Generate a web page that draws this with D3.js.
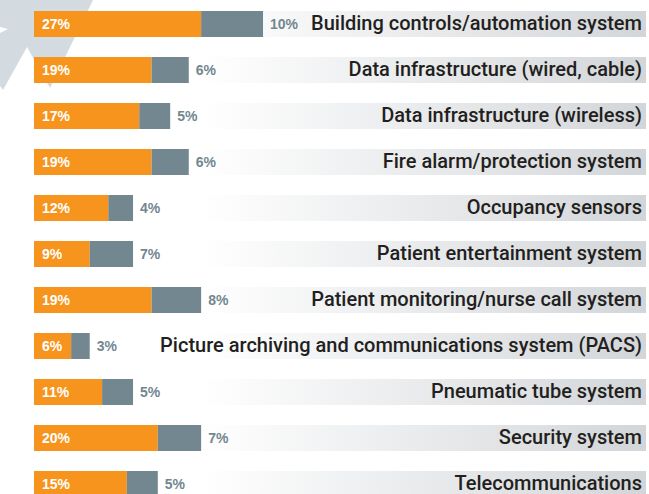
<!DOCTYPE html>
<html>
<head>
<meta charset="utf-8">
<script src="https://cdn.jsdelivr.net/npm/d3@7"></script>
<style>
  body { margin: 0; background: #fff; }
  svg { display: block; }
</style>
</head>
<body>
<div id="chart"></div>
<script>
// Data
const categories = [
  "Building controls/automation system",
  "Data infrastructure (wired, cable)",
  "Data infrastructure (wireless)",
  "Fire alarm/protection system",
  "Occupancy sensors",
  "Patient entertainment system",
  "Patient monitoring/nurse call system",
  "Picture archiving and communications system (PACS)",
  "Pneumatic tube system",
  "Security system",
  "Telecommunications"
];
const primary = [27, 19, 17, 19, 12, 9, 19, 6, 11, 20, 15];
const secondary = [10, 6, 5, 6, 4, 7, 8, 3, 5, 7, 5];

const rows = categories.map((c, i) => ({name: c, a: primary[i], b: secondary[i]}));

const width = 649, height = 494;
const orange = "#f7941d", slate = "#72878f";

const svg = d3.select("#chart")
  .append("svg")
  .attr("width", width)
  .attr("height", height);

// gradient used for the row bands
const grad = svg.append("defs").append("linearGradient")
  .attr("id", "band")
  .attr("gradientUnits", "userSpaceOnUse")
  .attr("x1", 200).attr("x2", 646)
  .attr("y1", 0).attr("y2", 0);
grad.append("stop").attr("offset", "0%").attr("stop-color", "#ffffff");
grad.append("stop").attr("offset", "100%").attr("stop-color", "#d3d6d9");

// watermark arrow in the corner
svg.append("path")
  .attr("d", "M0,0 L93,0 L50,88 L27,47 L3,90 L0,86 L0,33 L8,29 L0,27 Z")
  .attr("fill", "#d3dbe1");

// scales
const x = d3.scaleLinear().domain([0, 100]).range([34, 653]);
const y = d3.scaleBand()
  .domain(categories)
  .range([11, 497])
  .paddingInner(20 / 46)
  .paddingOuter(0);

const row = svg.selectAll(".row")
  .data(rows)
  .enter()
  .append("g")
  .attr("class", "row")
  .attr("transform", d => `translate(0,${y(d.name)})`);

// background band
row.append("rect")
  .attr("x", d => x(d.a + d.b))
  .attr("width", d => 646 - x(d.a + d.b))
  .attr("height", y.bandwidth())
  .attr("fill", "url(#band)");

// orange part
row.append("rect")
  .attr("x", x(0))
  .attr("width", d => x(d.a) - x(0))
  .attr("height", y.bandwidth())
  .attr("fill", orange);

// slate part
row.append("rect")
  .attr("x", d => x(d.a))
  .attr("width", d => x(d.a + d.b) - x(d.a))
  .attr("height", y.bandwidth())
  .attr("fill", slate);

const mid = y.bandwidth() / 2;

row.append("text")
  .attr("x", x(0) + 8)
  .attr("y", mid + 5)
  .attr("fill", "#fff")
  .style("font", "bold 14px 'Liberation Sans', Arial, sans-serif")
  .text(d => d.a + "%");

row.append("text")
  .attr("x", d => x(d.a + d.b) + 7)
  .attr("y", mid + 5)
  .attr("fill", slate)
  .style("font", "bold 14px 'Liberation Sans', Arial, sans-serif")
  .text(d => d.b + "%");

// category labels
row.append("text")
  .attr("x", 642)
  .attr("y", mid + 6)
  .attr("text-anchor", "end")
  .attr("fill", "#231f20")
  .style("font", "500 20px Roboto, 'Liberation Sans', sans-serif")
  .text(d => d.name);
</script>
</body>
</html>
